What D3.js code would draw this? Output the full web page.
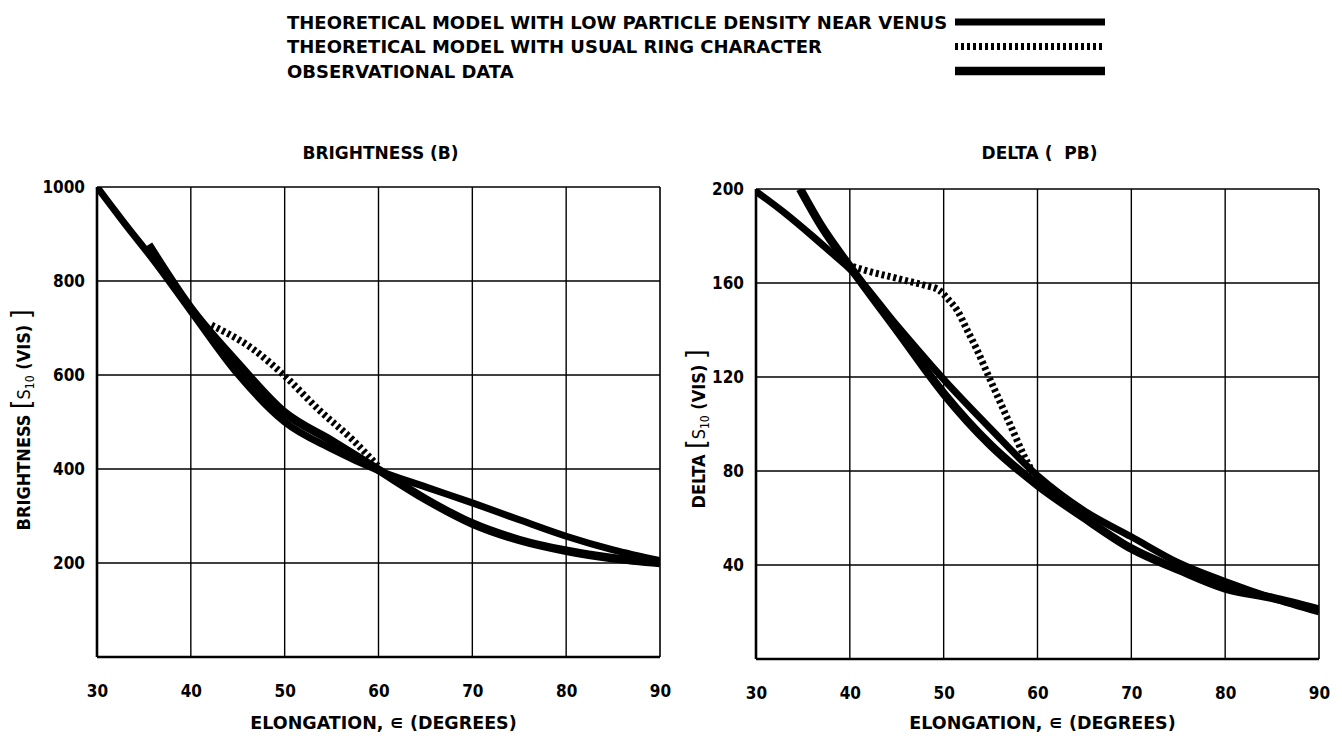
<!DOCTYPE html>
<html>
<head>
<meta charset="utf-8">
<script src="https://cdn.jsdelivr.net/npm/d3@7"></script>
<style>
	body { margin: 0; background: #fff; }
	svg { display: block; }
	.c-zodi text { font-family: "DejaVu Sans Condensed", "Liberation Sans Narrow", sans-serif; font-weight: bold; fill: #000; }
	.c-zodi .wide { font-family: "DejaVu Sans", sans-serif; }
</style>
</head>
<body>
<div id="chart"></div>
<script>
// tick values
var elongationTicks = [30, 40, 50, 60, 70, 80, 90];
var brightnessTicks = [200, 400, 600, 800, 1000];
var deltaTicks = [40, 80, 120, 160, 200];

// legend labels
var legendLabels = [
	"THEORETICAL MODEL WITH LOW PARTICLE DENSITY NEAR VENUS",
	"THEORETICAL MODEL WITH USUAL RING CHARACTER",
	"OBSERVATIONAL DATA"
];

// brightness panel, [elongation, value]
var brightLowDensity = [[30, 1000], [33, 921], [36, 845], [40, 736], [45, 602], [50, 500], [55, 443], [60, 397], [65, 362], [70, 328], [75, 292], [80, 257], [85, 228], [90, 205]];
var brightRing = [[42.2, 706], [46.5, 657], [50, 598], [53.7, 525], [57.3, 461], [60, 405]];
var brightObserved = [[35.5, 877], [40, 742], [45, 625], [50, 520], [55, 460], [60, 398], [65, 336], [70, 284], [75, 249], [80, 226], [85, 210], [90, 200]];

// delta panel, [elongation, value]
var deltaLowDensity = [[30, 199], [33, 190], [36, 180], [38, 173], [40, 166], [45, 142], [50, 119], [55, 98], [60, 78], [65, 63], [70, 52], [75, 41], [80, 33], [85, 26], [90, 20]];
var deltaRing = [[40.3, 167], [42, 165], [44, 163], [46, 161], [48, 159], [49.5, 157], [50.5, 153], [51.5, 148], [52.5, 140], [53.5, 132], [54.5, 123], [55.5, 114], [56.5, 105], [57.5, 96], [58.5, 87], [59.5, 79], [60, 74]];
var deltaObserved = [[34.7, 200], [37, 184], [40, 167], [45, 140], [50, 113], [55, 91], [60, 74], [65, 60], [70, 47], [75, 38], [80, 30], [85, 26], [90, 21]];

var width = 1342, height = 740;
var styles = {
	low: { width: 7, dash: null },
	ring: { width: 7, dash: "3,3" },
	obs: { width: 8.5, dash: null }
};

var svg = d3.select("#chart").append("svg")
	.attr("class", "c-zodi")
	.attr("width", width)
	.attr("height", height);

//Legend
var legend = svg.append("g").attr("class", "c-zodi__legend");
var legendKeys = ["low", "ring", "obs"];
legendLabels.forEach(function(label, i){
	var y = 22 + i * 24.5;
	legend.append("text")
		.attr("class", "wide")
		.attr("x", 287)
		.attr("y", y + 6.5)
		.style("font-size", "18px")
		.text(label);
	legend.append("line")
		.attr("x1", 955).attr("x2", 1105)
		.attr("y1", y).attr("y2", y)
		.attr("stroke", "#000")
		.attr("stroke-width", styles[legendKeys[i]].width)
		.attr("stroke-dasharray", styles[legendKeys[i]].dash);
});

function drawPanel(opt){
	var g = svg.append("g");

	var xScale = d3.scaleLinear().domain([30, 90]).range([opt.left, opt.right]);
	var yScale = d3.scaleLinear().domain([0, opt.yMax]).range([opt.bottom, opt.top]);

	//Grid
	g.selectAll(".vgrid").data(elongationTicks.slice(1, -1)).enter().append("line")
		.attr("x1", function(d){ return xScale(d); })
		.attr("x2", function(d){ return xScale(d); })
		.attr("y1", opt.top).attr("y2", opt.bottom)
		.attr("stroke", "#000").attr("stroke-width", 1.4);
	g.selectAll(".hgrid").data(opt.yTicks.slice(0, -1)).enter().append("line")
		.attr("x1", opt.left).attr("x2", opt.right)
		.attr("y1", function(d){ return yScale(d); })
		.attr("y2", function(d){ return yScale(d); })
		.attr("stroke", "#000").attr("stroke-width", 1.4);

	//Frame
	g.append("line").attr("x1", opt.left).attr("x2", opt.right).attr("y1", opt.top).attr("y2", opt.top)
		.attr("stroke", "#000").attr("stroke-width", 1.6);
	g.append("line").attr("x1", opt.right).attr("x2", opt.right).attr("y1", opt.top).attr("y2", opt.bottom)
		.attr("stroke", "#000").attr("stroke-width", 1.6);
	g.append("line").attr("x1", opt.left).attr("x2", opt.right).attr("y1", opt.bottom).attr("y2", opt.bottom)
		.attr("stroke", "#000").attr("stroke-width", 2.6);
	g.append("line").attr("x1", opt.left).attr("x2", opt.left).attr("y1", opt.top).attr("y2", opt.bottom)
		.attr("stroke", "#000").attr("stroke-width", 2.6);

	//Axes labels
	var xAxis = d3.axisBottom(xScale).tickValues(elongationTicks).tickSize(0).tickPadding(0).tickFormat(d3.format("d"));
	var xg = g.append("g").attr("transform", "translate(0," + (opt.bottom + 40) + ")").call(xAxis);
	var yAxis = d3.axisLeft(yScale).tickValues(opt.yTicks).tickSize(0).tickPadding(0).tickFormat(d3.format("d"));
	var yg = g.append("g").attr("transform", "translate(" + (opt.left - 12) + ",0)").call(yAxis);
	[xg, yg].forEach(function(a){
		a.select(".domain").remove();
		a.selectAll("text").attr("fill", "#000").style("font-size", "17px").attr("dy", null);
	});
	xg.selectAll("text").attr("y", 0);
	yg.selectAll("text").attr("dy", "0.35em");

	//Curves
	var clipId = "clip-" + opt.id;
	svg.append("clipPath").attr("id", clipId).append("rect")
		.attr("x", opt.left).attr("y", opt.top)
		.attr("width", opt.right - opt.left).attr("height", opt.bottom - opt.top);

	var line = d3.line()
		.x(function(d){ return xScale(d[0]); })
		.y(function(d){ return yScale(d[1]); })
		.curve(d3.curveMonotoneX);

	var curves = g.append("g").attr("clip-path", "url(#" + clipId + ")");
	opt.series.forEach(function(s){
		curves.append("path")
			.datum(s.points)
			.attr("d", line)
			.attr("fill", "none")
			.attr("stroke", "#000")
			.attr("stroke-width", styles[s.key].width)
			.attr("stroke-dasharray", styles[s.key].dash)
			.attr("stroke-linecap", "butt");
	});

	//Title
	g.append("text")
		.attr("class", "wide")
		.attr("x", (opt.left + opt.right) / 2 + 2)
		.attr("y", 159)
		.attr("text-anchor", "middle")
		.style("font-size", "17px")
		.style("white-space", "pre")
		.text(opt.title);

	//X axis title
	var xt = g.append("text")
		.attr("class", "wide")
		.attr("x", (opt.left + opt.right) / 2 + 5)
		.attr("y", 729)
		.attr("text-anchor", "middle")
		.style("font-size", "17.5px");
	xt.append("tspan").text("ELONGATION, ");
	xt.append("tspan").style("font-size", "19px").text("\u220A");
	xt.append("tspan").text(" (DEGREES)");

	//Y axis title
	var yt = g.append("text")
		.attr("transform", "translate(" + opt.yLabelX + "," + opt.yLabelY + ")rotate(-90)")
		.attr("text-anchor", "middle")
		.style("font-size", "18px");
	yt.append("tspan").text(opt.yLabel + " ");
	yt.append("tspan").style("font-size", "27px").style("font-weight", "normal").text("[");
	yt.append("tspan").style("font-weight", "normal").text("S");
	yt.append("tspan").style("font-size", "12px").style("font-weight", "normal").attr("dy", 4).text("10");
	yt.append("tspan").attr("dy", -4).text(" (VIS) ");
	yt.append("tspan").style("font-size", "27px").style("font-weight", "normal").text("]");
}

drawPanel({
	id: "brightness",
	left: 97, right: 660, top: 187, bottom: 657,
	yMax: 1000, yTicks: brightnessTicks,
	title: "BRIGHTNESS (B)",
	yLabel: "BRIGHTNESS", yLabelX: 30, yLabelY: 420,
	series: [
		{ key: "low", points: brightLowDensity },
		{ key: "obs", points: brightObserved },
		{ key: "ring", points: brightRing }
	]
});

drawPanel({
	id: "delta",
	left: 756, right: 1319, top: 189, bottom: 659,
	yMax: 200, yTicks: deltaTicks,
	title: "DELTA (  PB)",
	yLabel: "DELTA", yLabelX: 705, yLabelY: 429,
	series: [
		{ key: "low", points: deltaLowDensity },
		{ key: "obs", points: deltaObserved },
		{ key: "ring", points: deltaRing }
	]
});
</script>
</body>
</html>
